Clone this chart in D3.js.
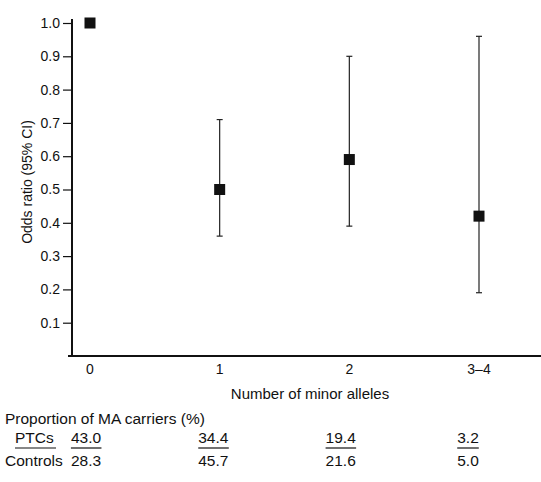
<!DOCTYPE html>
<html>
<head>
<meta charset="utf-8">
<script src="https://cdn.jsdelivr.net/npm/d3@7"></script>
<style>
  body { margin: 0; background: #fff; }
  text { font-family: "Liberation Sans", Arial, sans-serif; fill: #111; }
</style>
</head>
<body>
<div id="chart"></div>
<script>
// data
var categories = ["0", "1", "2", "3\u20134"];
var oddsRatio = [1.0, 0.50, 0.59, 0.42];
var ciLow = [null, 0.36, 0.39, 0.19];
var ciHigh = [null, 0.71, 0.90, 0.96];
var yTicks = [0.1, 0.2, 0.3, 0.4, 0.5, 0.6, 0.7, 0.8, 0.9, 1.0];
var ptcs = ["43.0", "34.4", "19.4", "3.2"];
var controls = ["28.3", "45.7", "21.6", "5.0"];

var width = 541, height = 482;
var svg = d3.select("#chart").append("svg")
  .attr("width", width).attr("height", height);

var x = d3.scalePoint().domain(categories).range([90, 479]);
var y = d3.scaleLinear().domain([0, 1.0]).range([356, 23]);

// axes
var yAxis = d3.axisLeft(y).tickValues(yTicks).tickFormat(d3.format(".1f"))
  .tickSize(9).tickPadding(3);
var gy = svg.append("g").attr("transform", "translate(72,0)").call(yAxis);
gy.select(".domain").remove();
gy.selectAll("text").style("font-size", "14px").style("font-family", "Liberation Sans, Arial, sans-serif").attr("fill", "#111");
gy.selectAll("line").attr("stroke", "#111").attr("stroke-width", 1.2);
svg.append("line").attr("x1", 72).attr("x2", 72).attr("y1", 19).attr("y2", 356)
  .attr("stroke", "#111").attr("stroke-width", 2);

svg.append("line").attr("x1", 68).attr("x2", 541).attr("y1", 356).attr("y2", 356)
  .attr("stroke", "#111").attr("stroke-width", 2.2);

svg.selectAll(".xlab").data(categories).enter().append("text")
  .attr("x", function(d){ return x(d); }).attr("y", 374)
  .attr("text-anchor", "middle").style("font-size", "14px").text(function(d){ return d; });

svg.append("text").attr("x", 310).attr("y", 399).attr("text-anchor", "middle")
  .style("font-size", "15px").text("Number of minor alleles");

svg.append("text").attr("transform", "translate(32,182) rotate(-90)")
  .attr("text-anchor", "middle").style("font-size", "14px").text("Odds ratio (95% CI)");

// error bars
var pts = categories.map(function(c, i){ return {c: c, v: oddsRatio[i], lo: ciLow[i], hi: ciHigh[i]}; });
var withCI = pts.filter(function(d){ return d.lo !== null; });
svg.selectAll(".ci").data(withCI).enter().append("line")
  .attr("x1", function(d){ return x(d.c); }).attr("x2", function(d){ return x(d.c); })
  .attr("y1", function(d){ return y(d.lo); }).attr("y2", function(d){ return y(d.hi); })
  .attr("stroke", "#222").attr("stroke-width", 1.2);
["lo", "hi"].forEach(function(k){
  svg.selectAll(".cap" + k).data(withCI).enter().append("line")
    .attr("x1", function(d){ return x(d.c) - 3; }).attr("x2", function(d){ return x(d.c) + 3; })
    .attr("y1", function(d){ return y(d[k]); }).attr("y2", function(d){ return y(d[k]); })
    .attr("stroke", "#222").attr("stroke-width", 1.2);
});
svg.selectAll(".pt").data(pts).enter().append("rect")
  .attr("x", function(d){ return x(d.c) - 5.5; }).attr("y", function(d){ return y(d.v) - 5.5; })
  .attr("width", 11).attr("height", 11).attr("fill", "#111");

// table
var col = d3.scalePoint().domain(categories).range([86, 468]);
svg.append("text").attr("x", 5).attr("y", 424).style("font-size", "15.5px")
  .text("Proportion of MA carriers (%)");
svg.append("text").attr("x", 15).attr("y", 443).style("font-size", "15.5px").text("PTCs");
svg.append("line").attr("x1", 15).attr("x2", 56).attr("y1", 448).attr("y2", 448)
  .attr("stroke", "#111").attr("stroke-width", 1.2);
svg.append("text").attr("x", 5).attr("y", 466).style("font-size", "15.5px").text("Controls");

var pt = svg.selectAll(".ptc").data(categories).enter().append("text")
  .attr("x", function(d){ return col(d); }).attr("y", 443)
  .attr("text-anchor", "middle").style("font-size", "15.5px")
  .text(function(d, i){ return ptcs[i]; });
pt.each(function(){
  var b = this.getBBox();
  svg.append("line").attr("x1", b.x).attr("x2", b.x + b.width).attr("y1", 448).attr("y2", 448)
    .attr("stroke", "#111").attr("stroke-width", 1.2);
});
svg.selectAll(".ctl").data(categories).enter().append("text")
  .attr("x", function(d){ return col(d); }).attr("y", 466)
  .attr("text-anchor", "middle").style("font-size", "15.5px")
  .text(function(d, i){ return controls[i]; });
</script>
</body>
</html>
